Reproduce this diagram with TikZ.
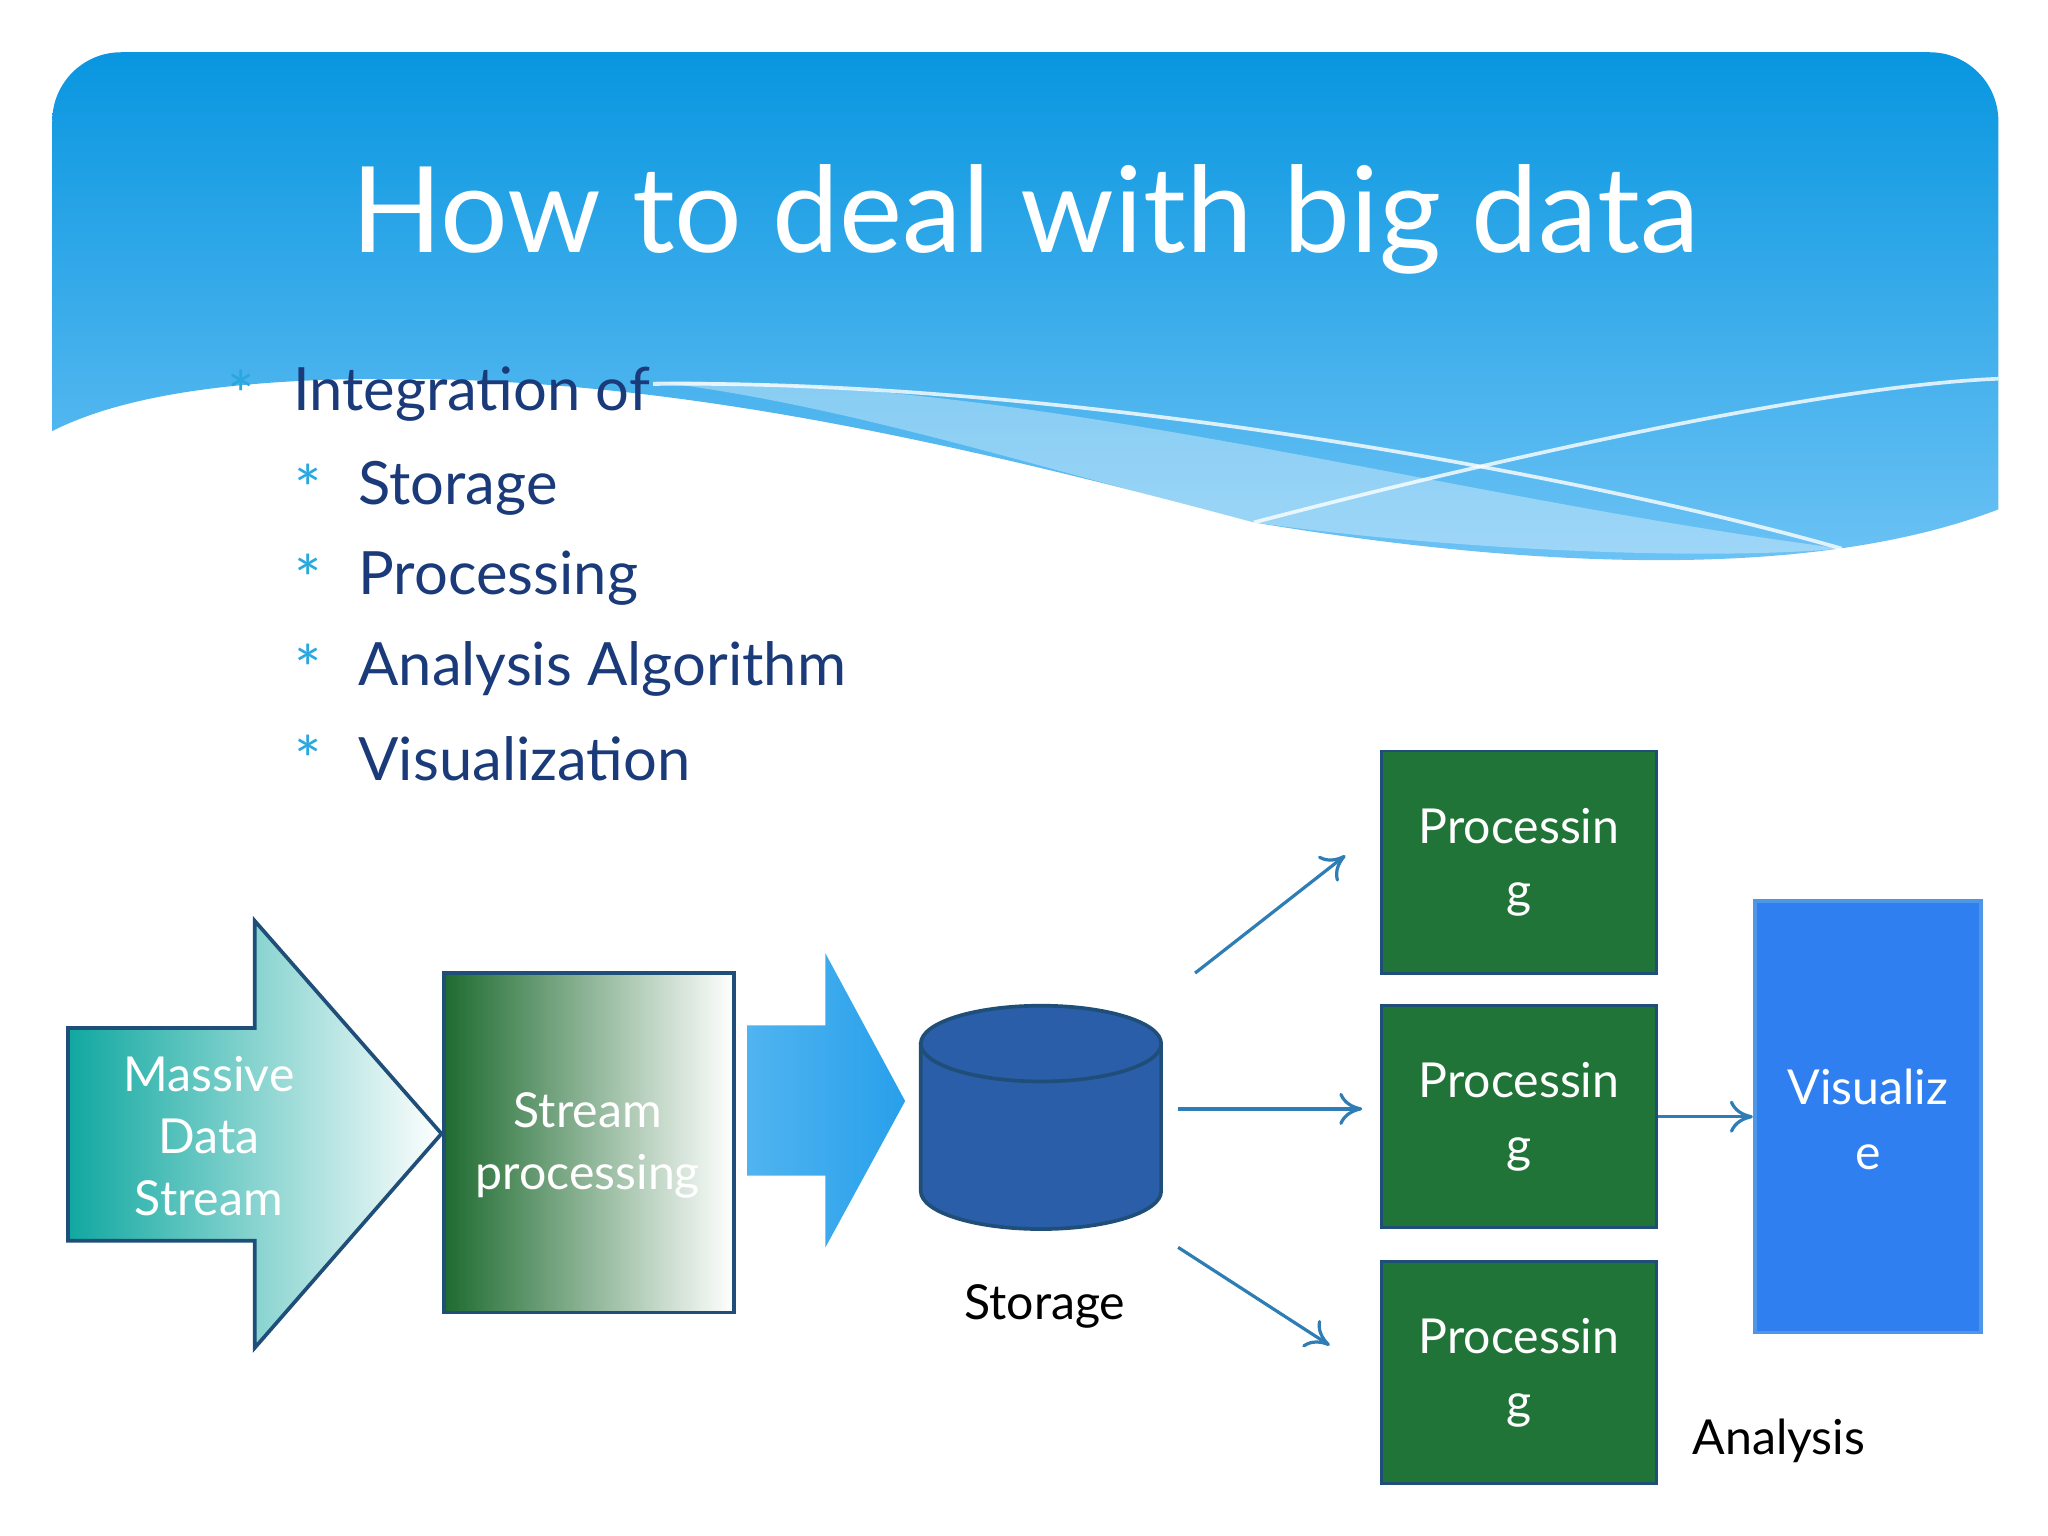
\documentclass[tikz,border=0pt]{standalone}
\usepackage{fontspec}
\setmainfont{Lato}
\usetikzlibrary{shapes.geometric,arrows.meta}
\definecolor{tb}{HTML}{1A3A7A}
\definecolor{ast}{HTML}{29A8E0}
\definecolor{gr}{HTML}{217437}
\definecolor{ac}{HTML}{2E7DB5}
\definecolor{bt}{RGB}{8,150,224}
\definecolor{bb}{RGB}{110,195,245}
\definecolor{teal}{RGB}{16,168,160}
\definecolor{edge}{RGB}{31,78,121}
\definecolor{dg}{RGB}{30,107,48}
\definecolor{la}{RGB}{80,180,240}
\definecolor{lb}{RGB}{40,160,235}
\definecolor{cy}{RGB}{42,94,168}
\definecolor{vb}{RGB}{47,127,240}
\definecolor{ve}{RGB}{80,150,230}
\tikzset{
 bul/.style={anchor=west,text=tb,font=\fontsize{13}{16}\selectfont},
 star/.style={text=ast,font=\fontsize{14}{16}\selectfont},
 gbox/.style={draw=edge,line width=0.6pt,fill=gr,text=white,align=center,font=\fontsize{10.5}{14}\selectfont},
 conn/.style={ac,line width=0.7pt,-{To[length=5pt,width=7pt]}},
 lbl/.style={font=\fontsize{10.5}{13}\selectfont}
}
\begin{document}
\begin{tikzpicture}[x=0.01cm,y=-0.01cm]
\useasboundingbox (0,0) rectangle (1568,1176);
\shade[top color=bt,bottom color=bb]
 (40,330) [rounded corners=15] -- (40,40) -- (1530,40) [sharp corners] -- (1530,390)
 .. controls (1400,440) and (1200,440) .. (960,400)
 .. controls (700,330) and (500,290) .. (300,290)
 .. controls (150,290) and (80,310) .. (40,330) -- cycle;
\fill[white,opacity=0.35] (500,292) .. controls (800,290) and (1100,380) .. (1410,420) .. controls (1300,430) and (1100,420) .. (960,400) .. controls (800,360) and (650,310) .. (500,292) -- cycle;
\draw[white,line width=0.8pt,opacity=0.8] (500,294) .. controls (800,290) and (1200,360) .. (1410,420);
\draw[white,line width=0.8pt,opacity=0.8] (960,400) .. controls (1150,350) and (1400,295) .. (1530,290);
\node[text=white,font=\fontsize{26}{30}\selectfont] (title) at (785,168) {How to deal with big data};
\node[star] (s0) at (185,302) {*};
\node[bul] (b0) at (212,302) {Integration of};
\node[star] (s1) at (236,374) {*};
\node[bul] (b1) at (262,374) {Storage};
\node[star] (s2) at (236,443) {*};
\node[bul] (b2) at (262,443) {Processing};
\node[star] (s3) at (236,512) {*};
\node[bul] (b3) at (262,512) {Analysis Algorithm};
\node[star] (s4) at (236,581) {*};
\node[bul] (b4) at (262,581) {Visualization};
\shade[left color=teal,right color=white,draw=edge,line width=0.8pt]
 (52,787) -- (195,787) -- (195,705) -- (338,868) -- (195,1032) -- (195,950) -- (52,950) -- cycle;
\node[text=white,align=center,font=\fontsize{10.5}{13.5}\selectfont] (mds) at (160,870) {Massive\\Data\\Stream};
\shade[left color=dg,right color=white,draw=edge,line width=0.8pt]
 (340,745) rectangle (562,1005);
\node[text=white,align=center,font=\fontsize{10.5}{13.5}\selectfont] (sp) at (450,877) {Stream\\processing};
\shade[left color=la,right color=lb]
 (572,785) -- (632,785) -- (632,730) -- (693,843) -- (632,955) -- (632,900) -- (572,900) -- cycle;
\filldraw[fill=cy,draw=edge,line width=0.8pt]
 (705,799) -- (705,912) arc[start angle=180,end angle=0,x radius=92,y radius=29] -- (889,799) -- cycle;
\filldraw[fill=cy,draw=edge,line width=0.8pt] (797,799) ellipse[x radius=92,y radius=29];
\node[lbl] (stl) at (800,1000) {Storage};
\node[gbox,minimum width=2.1cm,minimum height=1.7cm] (p1) at (1163,660) {Processin\\g};
\node[gbox,minimum width=2.1cm,minimum height=1.7cm] (p2) at (1163,855) {Processin\\g};
\node[gbox,minimum width=2.1cm,minimum height=1.7cm] (p3) at (1163,1051) {Processin\\g};
\node[draw=ve,line width=0.8pt,fill=vb,minimum width=1.73cm,minimum height=3.3cm] (vis) at (1430,855) {};
\node[text=white,align=center,font=\fontsize{10.5}{14}\selectfont] (vt) at (1430,857) {Visualiz\\e};
\node[lbl] (an) at (1362,1103) {Analysis};
\coordinate (a1s) at (915,745); \coordinate (a1e) at (1030,655);
\coordinate (a2s) at (902,849); \coordinate (a2e) at (1043,849);
\coordinate (a3s) at (902,955); \coordinate (a3e) at (1018,1030);
\draw[conn] (a1s) -- (a1e);
\draw[conn] (a2s) -- (a2e);
\draw[conn] (a3s) -- (a3e);
\draw[conn] (p2.east) -- (vis.west);
\end{tikzpicture}
\end{document}
